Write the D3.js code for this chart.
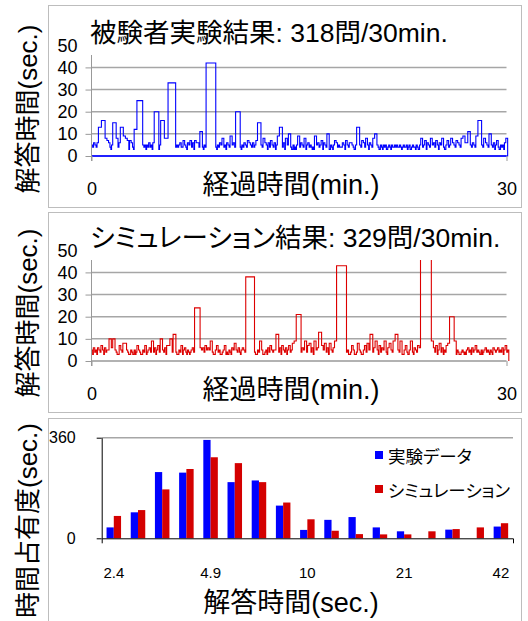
<!DOCTYPE html>
<html>
<head>
<meta charset="utf-8">
<script src="https://cdn.jsdelivr.net/npm/d3@7"></script>
<style>
body{margin:0;background:#fff;}
svg{display:block;font-family:"Liberation Sans","Noto Sans CJK JP",sans-serif;font-feature-settings:"palt";}
</style>
</head>
<body>
<div id="chart"></div>
<script>
//answer times (sec.) in order, experiment: 318 answers
const expTimes = [
	5,4,6,5,4,6,13,16,8,7,6,4,3,5,15,8,4,6,13,
	9,8,7,3,7,6,4,3,12,25,
	5,4,5,3,5,4,6,4,5,3,6,20,3,5,16,8,8,33,
	4,5,4,5,6,4,4,7,5,4,3,6,5,7,4,6,3,7,6,6,4,11,4,3,5,4,42,
	4,3,5,4,6,5,8,4,5,3,6,5,4,9,5,6,4,20,
	4,3,5,4,6,5,4,7,6,5,4,6,4,5,7,15,
	5,4,8,6,5,3,6,4,7,5,4,6,3,5,9,13,
	4,6,3,8,5,10,4,3,3,5,3,4,3,5,9,4,6,5,4,8,3,5,
	6,4,5,4,3,4,3,9,5,6,4,5,7,3,6,5,4,10,3,3,5,4,
	3,5,7,6,4,5,4,4,4,6,5,3,7,5,4,6,6,5,4,3,3,5,13,
	5,4,7,6,4,8,5,3,6,5,4,8,10,
	5,4,3,3,5,4,3,5,4,5,3,3,4,5,4,3,5,4,4,5,4,5,
	4,4,5,4,3,4,5,4,4,5,3,4,5,3,3,4,5,4,4,3,5,4,
	3,3,5,8,4,5,7,3,6,5,4,8,5,6,4,7,5,3,6,5,8,
	4,3,3,5,7,4,5,8,6,5,4,7,6,5,4,8,9,6,6,11,
	5,4,6,5,4,9,16,
	5,4,8,6,5,4,10,5,4,6,3,5,7,4,3,3,5,4,5,3,6,8
];
//simulation: 329 answers
const simTimes = [
	5,3,6,4,5,3,6,5,4,7,5,3,6,4,5,5,10,6,10,
	5,4,3,3,3,7,5,4,8,8,5,4,3,3,3,5,4,3,3,5,3,4,7,
	5,4,3,3,3,5,4,7,3,4,5,6,4,9,
	4,6,3,5,7,4,10,
	5,4,6,3,7,7,10,4,12,
	4,3,3,3,5,4,7,3,5,6,4,3,5,4,3,4,5,6,4,24,
	6,5,6,4,7,5,6,5,9,
	4,3,3,3,5,7,4,5,3,3,3,4,5,7,3,4,3,3,5,4,3,6,5,8,5,4,6,4,3,5,6,5,4,38,
	4,3,3,3,5,4,9,5,3,3,3,4,5,3,6,4,7,5,4,5,5,12,
	4,6,3,7,5,4,6,3,5,7,4,5,8,9,21,
	4,6,5,9,4,7,8,4,6,3,9,5,6,13,
	7,5,8,4,6,3,8,5,4,6,9,43,
	4,5,3,3,3,4,7,5,3,3,3,4,8,5,4,3,3,3,5,7,4,8,5,12,
	4,6,9,5,3,7,4,6,5,9,4,3,6,8,5,4,9,12,
	5,4,9,3,3,3,5,7,4,3,3,5,9,4,3,6,5,4,7,6,47,
	9,6,4,7,3,5,8,4,6,3,5,4,7,8,20,9,
	3,5,4,3,3,3,4,5,4,3,4,3,5,6,4,5,3,6,4,5,7,4,
	5,4,3,3,5,3,4,5,6,4,5,4,3,5,4,3,6,5,4,5,6,4,
	5,4,6,3,5,7,4,5
];
const panelTitles = ['被験者実験結果: 318問/30min.','シミュレーション結果: 329問/30min.'];
const timeTicks = [0,30];
const secTicks = [0,10,20,30,40,50];

//histogram of answer time (log bins)
const binLabels = ['2.4','2.9','3.5','4.1','4.9','5.8','6.9','8.2','10','12','14','17','21','25','30','35','42'];
const binTicks = ['2.4','4.9','10','21','42'];
const expHist = [39,93,237,235,352,201,207,117,30,66,76,39,25,0,31,0,42];
const simHist = [80,101,175,248,290,269,201,128,68,27,15,14,14,25,33,39,54];
const histTicks = [0,360];
const seriesNames = ['実験データ','シミュレーション'];
const seriesColors = ['#0000ff','#d40000'];

const svg = d3.select('#chart')
	.append('svg')
	.attr('width',528)
	.attr('height',621);

const x0 = 91.5, x1 = 506.5;
const scaleT = d3.scaleLinear().domain([0,30]).range([x0,x1]);

const panels = [
	{data:expTimes,color:'#0000ff',base:'#0000ff',box:[5.5,207.5],y0:156,top:55,titleY:42,xTitleY:194,yTitleY:109},
	{data:simTimes,color:'#dd0000',base:'#999',box:[212.5,412.5],y0:361,top:260,titleY:247,xTitleY:399,yTitleY:313}
];

panels.forEach((p,i) => {
	const g = svg.append('g');
	const scaleY = d3.scaleLinear().domain([0,50]).range([p.y0,p.y0-50*2.215]);

	g.append('rect')
		.attr('x',48.5).attr('y',p.box[0])
		.attr('width',473).attr('height',p.box[1]-p.box[0])
		.style('fill','none').style('stroke','#bdbdbd');

	//gridlines
	g.selectAll('.grid')
		.data(secTicks.filter(d => d > 0 && scaleY(d) >= p.top))
		.enter()
		.append('line')
		.attr('x1',x0).attr('x2',x1)
		.attr('y1',d => scaleY(d)).attr('y2',d => scaleY(d))
		.style('stroke','#a6a6a6').style('stroke-width',1.5);

	//step line: each answer is a step as wide as its duration
	const ends = Array.from(d3.cumsum(p.data));
	const pts = p.data.map((d,j) => [j === 0 ? 0 : ends[j-1], d]);
	pts.push([ends[ends.length-1], p.data[p.data.length-1]]);
	pts.push([ends[ends.length-1], 0]);
	if(i === 0) pts.push([0,0]);

	g.append('clipPath').attr('id','clip'+i)
		.append('rect')
		.attr('x',x0-2).attr('y',p.top)
		.attr('width',x1-x0+8).attr('height',p.y0-p.top+2);

	const line = d3.line()
		.x(d => scaleT(d[0]/60))
		.y(d => scaleY(d[1]))
		.curve(d3.curveStepAfter);

	g.append('line')
		.attr('x1',x0).attr('x2',x1)
		.attr('y1',p.y0).attr('y2',p.y0)
		.style('stroke',p.base).style('stroke-width',1.5);

	g.append('path')
		.datum(pts)
		.attr('clip-path',`url(#clip${i})`)
		.attr('d',line)
		.style('fill','none')
		.style('stroke',p.color)
		.style('stroke-width',1.1);

	//axes
	const axisY = d3.axisLeft(scaleY)
		.tickValues(secTicks)
		.tickSize(6)
		.tickPadding(8);
	const axisYNode = g.append('g')
		.attr('transform',`translate(${x0},0)`)
		.call(axisY);
	axisYNode.select('.domain').remove();
	axisYNode.selectAll('.tick line')
		.style('stroke','#999')
		.style('display',d => scaleY(d) < p.top ? 'none' : null);
	axisYNode.selectAll('text').style('font-size','18px').style('fill','#000');
	g.append('line')
		.attr('x1',x0).attr('x2',x0)
		.attr('y1',p.top).attr('y2',p.y0+5)
		.style('stroke','#999');

	const axisX = d3.axisBottom(scaleT)
		.tickValues(timeTicks)
		.tickSize(5)
		.tickPadding(21);
	const axisXNode = g.append('g')
		.attr('transform',`translate(0,${p.y0})`)
		.call(axisX);
	axisXNode.select('.domain').remove();
	axisXNode.selectAll('.tick line').style('stroke','#999');
	axisXNode.selectAll('text').style('font-size','18px').style('fill','#000');

	//texts
	g.append('text')
		.attr('x',90).attr('y',p.titleY)
		.style('font-size','26.5px')
		.text(panelTitles[i]);
	g.append('text')
		.attr('x',291).attr('y',p.xTitleY)
		.attr('text-anchor','middle')
		.style('font-size','27px')
		.text('経過時間(min.)');
	g.append('text')
		.attr('transform',`translate(37,${p.yTitleY}) rotate(-90)`)
		.attr('text-anchor','middle')
		.style('font-size','26px')
		.text('解答時間(sec.)');
});

//histogram panel
const h = svg.append('g');
h.append('rect')
	.attr('x',48.5).attr('y',418.5)
	.attr('width',473).attr('height',230)
	.style('fill','none').style('stroke','#bdbdbd');

const scaleB = d3.scaleBand().domain(binLabels).range([101.7,513]).paddingInner(0.4).paddingOuter(0.2);
const scaleS = d3.scaleBand().domain([0,1]).range([0,scaleB.bandwidth()]);
const scaleH = d3.scaleLinear().domain([0,360]).range([538.3,437.7]);

h.append('line')
	.attr('x1',101.7).attr('x2',513)
	.attr('y1',scaleH(360)).attr('y2',scaleH(360))
	.style('stroke','#a6a6a6').style('stroke-width',1.5);

[expHist,simHist].forEach((vals,s) => {
	h.selectAll('.bar'+s)
		.data(vals)
		.enter()
		.append('rect')
		.attr('class','bar'+s)
		.attr('x',(d,j) => scaleB(binLabels[j]) + scaleS(s))
		.attr('width',scaleS.bandwidth())
		.attr('y',d => scaleH(d))
		.attr('height',d => scaleH(0) - scaleH(d))
		.style('fill',seriesColors[s]);
});

const axisH = d3.axisLeft(scaleH)
	.tickValues(histTicks)
	.tickSize(5)
	.tickSizeOuter(0)
	.tickPadding(21);
h.append('g')
	.attr('transform','translate(101.7,0)')
	.call(axisH)
	.selectAll('text').style('font-size','16px').style('fill','#000');

const axisB = d3.axisBottom(scaleB)
	.tickValues(binTicks)
	.tickSize(0)
	.tickSizeOuter(5)
	.tickPadding(29);
h.append('g')
	.attr('transform',`translate(0,${scaleH(0)})`)
	.call(axisB)
	.selectAll('text').style('font-size','15px').style('fill','#000');

//legend
seriesNames.forEach((name,s) => {
	h.append('rect')
		.attr('x',375).attr('y',451 + s*34)
		.attr('width',8).attr('height',8)
		.style('fill',seriesColors[s]);
	h.append('text')
		.attr('x',388).attr('y',462.5 + s*34)
		.style('font-size','17.5px')
		.text(name);
});

h.append('text')
	.attr('x',291).attr('y',612)
	.attr('text-anchor','middle')
	.style('font-size','27px')
	.text('解答時間(sec.)');
h.append('text')
	.attr('transform','translate(37,423) rotate(-90)')
	.attr('text-anchor','end')
	.style('font-size','26px')
	.text('時間占有度(sec.)');
</script>
</body>
</html>
